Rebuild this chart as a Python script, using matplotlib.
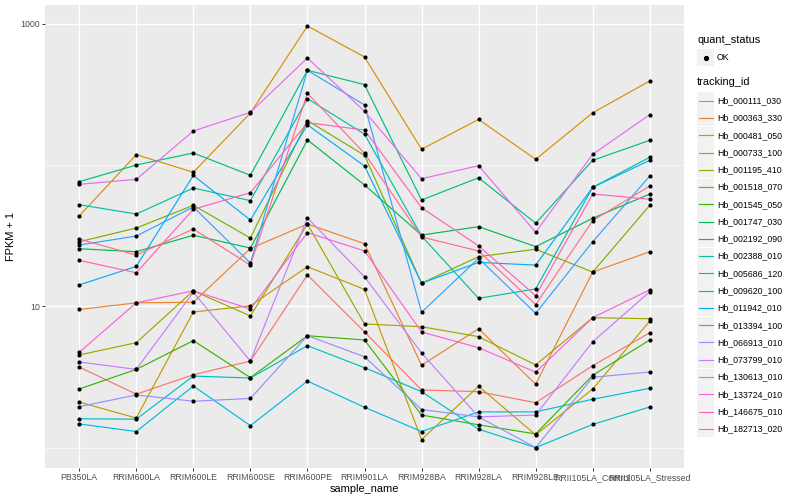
import numpy as np
import matplotlib
matplotlib.use("Agg")
import matplotlib.pyplot as plt
from matplotlib.lines import Line2D
from matplotlib.patches import Rectangle

plt.rcParams['font.family'] = ['Liberation Sans', 'DejaVu Sans']

# samples on the x axis
sample_names = ["PB350LA", "RRIM600LA", "RRIM600LE", "RRIM600SE", "RRIM600PE",
                "RRIM901LA", "RRIM928BA", "RRIM928LA", "RRIM928LE",
                "RRII105LA_Control", "RRII105LA_Stressed"]

# FPKM + 1 per gene
hb_000111_030 = [3.72, 2.39, 3.28, 4.10, 16.7, 6.59, 2.56, 2.49, 2.08, 3.80, 6.51]
hb_000363_330 = [9.51, 10.6, 10.7, 25.7, 38.3, 27.8, 3.83, 6.95, 2.81, 17.5, 24.4]
hb_000481_050 = [43.7, 118.7, 89.1, 234, 968, 584, 129.6, 211, 110, 235, 395]
hb_000733_100 = [2.10, 1.62, 9.13, 10.1, 19.1, 13.2, 1.14, 2.72, 1.23, 2.60, 7.88]
hb_001195_410 = [4.53, 5.53, 12.9, 8.55, 38.3, 7.51, 7.18, 6.10, 3.85, 8.32, 8.18]
hb_001518_070 = [28.7, 35.9, 52.0, 30.5, 207, 117.5, 14.6, 22.5, 25.4, 17.5, 52.0]
hb_001545_050 = [2.60, 3.58, 5.72, 3.13, 6.20, 5.78, 1.70, 1.45, 1.25, 3.25, 5.78]
hb_001747_030 = [25.6, 24.4, 31.9, 25.9, 151, 72.4, 32.0, 36.7, 26.5, 42.1, 62.5]
hb_002192_090 = [76.4, 100.3, 122, 84.8, 470, 372, 56.7, 81.5, 38.8, 108.3, 150]
hb_002388_010 = [52.5, 45.1, 68.9, 56.1, 296, 166, 31.5, 11.4, 13.3, 69.7, 113.8]
hb_005686_120 = [1.60, 1.59, 3.21, 3.11, 5.27, 3.68, 2.49, 1.35, 1.00, 1.46, 1.94]
hb_009620_100 = [1.47, 1.30, 2.73, 1.43, 2.96, 1.93, 1.30, 1.79, 1.79, 2.20, 2.63]
hb_011942_010 = [14.2, 19.2, 84.6, 40.9, 193, 98.7, 14.6, 20.5, 19.6, 69.7, 108.3]
hb_013394_100 = [27.2, 31.5, 50.6, 20.3, 470, 267, 9.08, 21.9, 8.93, 28.7, 83.8]
hb_066913_010 = [1.95, 2.36, 2.13, 2.23, 6.20, 4.40, 1.86, 1.65, 1.00, 3.15, 3.43]
hb_073799_010 = [4.04, 3.58, 12.6, 4.10, 42.3, 16.2, 4.68, 1.65, 1.70, 5.62, 12.7]
hb_130613_010 = [73.2, 79.4, 174.7, 237, 574, 241, 80.2, 99.2, 33.5, 119.5, 228]
hb_133724_010 = [4.73, 10.6, 12.9, 9.58, 33.3, 24.7, 6.59, 5.10, 3.42, 8.32, 13.1]
hb_146675_010 = [21.2, 17.3, 48.7, 63.9, 200, 177.5, 50.0, 26.8, 11.9, 62.5, 57.4]
hb_182713_020 = [30.0, 23.1, 35.3, 19.6, 323, 121.4, 31.0, 24.7, 10.3, 40.5, 71.2]

tracking_ids = ["Hb_000111_030", "Hb_000363_330", "Hb_000481_050", "Hb_000733_100",
                "Hb_001195_410", "Hb_001518_070", "Hb_001545_050", "Hb_001747_030",
                "Hb_002192_090", "Hb_002388_010", "Hb_005686_120", "Hb_009620_100",
                "Hb_011942_010", "Hb_013394_100", "Hb_066913_010", "Hb_073799_010",
                "Hb_130613_010", "Hb_133724_010", "Hb_146675_010", "Hb_182713_020"]
series = [hb_000111_030, hb_000363_330, hb_000481_050, hb_000733_100,
          hb_001195_410, hb_001518_070, hb_001545_050, hb_001747_030,
          hb_002192_090, hb_002388_010, hb_005686_120, hb_009620_100,
          hb_011942_010, hb_013394_100, hb_066913_010, hb_073799_010,
          hb_130613_010, hb_133724_010, hb_146675_010, hb_182713_020]

# ggplot default hue palette for 20 levels
colors = ["#F8766D", "#EA8331", "#D89000", "#C09B00", "#A3A500", "#7CAE00",
          "#39B600", "#00BB4E", "#00BF7D", "#00C1A3", "#00BFC4", "#00BAE0",
          "#00B0F6", "#35A2FF", "#9590FF", "#C77CFF", "#E76BF3", "#FA62DB",
          "#FF62BC", "#FF6C91"]

W, H = 800, 500
fig = plt.figure(figsize=(W / 100, H / 100), dpi=100)
ax = fig.add_axes([45 / W, 1 - 468 / H, (684 - 45) / W, (468 - 5) / H])
ax.set_facecolor("#EBEBEB")

x = np.arange(len(sample_names))
for vals, col in zip(series, colors):
    ax.plot(x, vals, color=col, lw=0.85, zorder=3)
for vals in series:
    ax.scatter(x, vals, s=9, color="black", zorder=4, linewidths=0)

ax.set_yscale("log")
ax.set_ylim(0.717, 1363)
ax.set_xlim(-0.6, len(sample_names) - 0.4)

ax.set_yticks([10, 1000])
ax.set_yticklabels(["10", "1000"])
ax.set_yticks([1, 100], minor=True)
ax.yaxis.set_minor_formatter(matplotlib.ticker.NullFormatter())
ax.set_xticks(x)
ax.set_xticklabels(sample_names)

ax.grid(which="major", color="white", lw=1.0, zorder=0)
ax.grid(which="minor", axis="y", color="white", lw=0.5, zorder=0)
ax.set_axisbelow(True)
for s in ax.spines.values():
    s.set_visible(False)
ax.tick_params(which="major", length=2.0, width=0.7, color="#333333",
               labelsize=6.3, labelcolor="#4D4D4D", pad=1.5)
ax.tick_params(which="minor", length=0)

ax.set_xlabel("sample_name", fontsize=7.9, labelpad=1.5)
ax.set_ylabel("FPKM + 1", fontsize=7.9, labelpad=3)

# legends drawn by hand, ggplot style
def fx(px):
    return px / W

def fy(py):
    return 1 - py / H

fig.text(fx(697), fy(40), "quant_status", fontsize=7.9, va="center", ha="left")
fig.add_artist(Rectangle((fx(697), fy(66)), 17 / W, 17 / H, transform=fig.transFigure,
                         facecolor="#F2F2F2", edgecolor="none"))
fig.add_artist(Line2D([fx(705.5)], [fy(57.5)], marker="o", markersize=2.8,
                      color="black", transform=fig.transFigure))
fig.text(fx(717), fy(57.5), "OK", fontsize=6.3, va="center", ha="left")

fig.text(fx(697), fy(82), "tracking_id", fontsize=7.9, va="center", ha="left")
step = 17.27
for i, (tid, col) in enumerate(zip(tracking_ids, colors)):
    yc = 100.7 + i * step
    fig.add_artist(Rectangle((fx(697), fy(yc + 8.5)), 17 / W, 17 / H,
                             transform=fig.transFigure, facecolor="#F2F2F2",
                             edgecolor="none"))
    fig.add_artist(Line2D([fx(698.5), fx(712.5)], [fy(yc), fy(yc)], color=col,
                          lw=0.85, transform=fig.transFigure))
    fig.text(fx(717), fy(yc), tid, fontsize=6.3, va="center", ha="left")

fig.savefig("out.png", dpi=100)
